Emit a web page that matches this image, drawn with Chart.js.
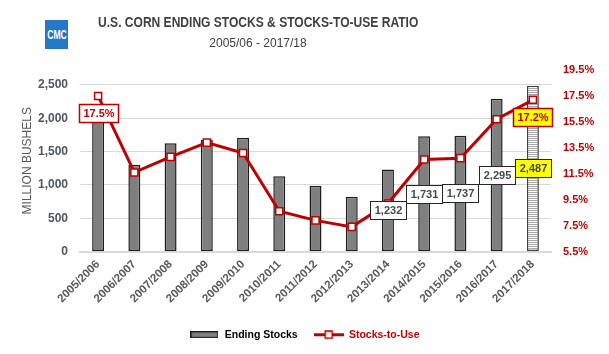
<!DOCTYPE html>
<html><head><meta charset="utf-8">
<script src="https://cdn.jsdelivr.net/npm/chart.js@4.4.0/dist/chart.umd.min.js"></script>
<style>
html,body{margin:0;padding:0;background:#fff;}
#wrap{position:relative;width:609px;height:354px;overflow:hidden;font-family:'Liberation Sans',Arial,sans-serif;}
#c{position:absolute;left:0;top:0;}
#logo{position:absolute;left:45px;top:20px;width:23px;height:29px;background:#2678c4;}
#logo span{position:absolute;left:50%;top:8px;color:#fff;font-weight:bold;font-size:12px;line-height:14px;white-space:nowrap;transform:translateX(-50%) scaleX(0.72);}
#title{position:absolute;left:0;width:516px;top:14px;text-align:center;font-weight:bold;font-size:14px;line-height:16px;color:#404040;white-space:nowrap;}
#title span{display:inline-block;transform:scaleX(0.86);}
#sub{position:absolute;left:0;width:516px;top:36px;text-align:center;font-size:12px;line-height:14px;color:#404040;white-space:nowrap;}
</style></head>
<body>
<div id="wrap">
  <canvas id="c" width="609" height="354" style="width:609px;height:354px"></canvas>
  <div id="logo"><span>CMC</span></div>
  <div id="title"><span>U.S. CORN ENDING STOCKS &amp; STOCKS-TO-USE RATIO</span></div>
  <div id="sub">2005/06 - 2017/18</div>
</div>
<script>
const CATEGORIES = ['2005/2006','2006/2007','2007/2008','2008/2009','2009/2010','2010/2011','2011/2012','2012/2013','2013/2014','2014/2015','2015/2016','2016/2017','2017/2018'];
const ENDING_STOCKS = [1967,1304,1624,1673,1708,1128,989,821,1232,1731,1737,2295,2487];
const STOCKS_TO_USE = [17.5,11.6,12.8,13.9,13.1,8.6,7.9,7.4,9.2,12.6,12.7,15.7,17.2];
const LEFT_TICKS = [0,500,1000,1500,2000,2500];
const RIGHT_TICKS = [5.5,7.5,9.5,11.5,13.5,15.5,17.5,19.5];
const LEFT_MAX = 2725;
const STOCK_LABEL_INDEX = [8,9,10,11,12];
const RATIO_LABEL_INDEX = [0,12];
const HIGHLIGHT_INDEX = 12;
const SERIES_NAMES = ['Ending Stocks','Stocks-to-Use'];

const FONT = "'Liberation Sans', Arial, sans-serif";
Chart.defaults.font.family = FONT;

function mkCanvas(w,h){const c=document.createElement('canvas');c.width=w;c.height=h;return c;}
// hatch pattern for the projected year
const pc = mkCanvas(2,2); const pctx = pc.getContext('2d');
pctx.fillStyle='#ffffff'; pctx.fillRect(0,0,2,2);
pctx.fillStyle='#a6a6a6'; pctx.fillRect(0,0,2,1);
const hatch = document.getElementById('c').getContext('2d').createPattern(pc,'repeat');

// legend icons
const barIcon = mkCanvas(28,7); {const g=barIcon.getContext('2d'); g.fillStyle='#7f7f7f'; g.fillRect(0,0,28,7); g.strokeStyle='#1a1a1a'; g.lineWidth=1.2; g.strokeRect(0.6,0.6,26.8,5.8);}
const lineIcon = mkCanvas(30,9); {const g=lineIcon.getContext('2d'); g.strokeStyle='#c00000'; g.lineWidth=3; g.beginPath(); g.moveTo(0,4.5); g.lineTo(30,4.5); g.stroke(); g.fillStyle='#fff'; g.fillRect(11.5,1,7,7); g.lineWidth=1.5; g.strokeRect(11.5,1,7,7);}

function drawBox(ctx,cx,cy,text,fill,stroke,sw,color){
  const w = Math.round(ctx.measureText(text).width + 8), h = 18;
  const x = Math.round(cx - w/2) + 0.5, y = Math.round(cy - h/2) + 0.5;
  ctx.fillStyle = fill; ctx.fillRect(x,y,w,h);
  ctx.lineWidth = sw; ctx.strokeStyle = stroke; ctx.strokeRect(x,y,w,h);
  ctx.fillStyle = color; ctx.fillText(text, x + w/2, y + h/2 + 0.5);
}

const labelPlugin = {
  id:'valueLabels',
  afterDatasetsDraw(chart){
    const ctx = chart.ctx;
    const barMeta = chart.getDatasetMeta(0), lineMeta = chart.getDatasetMeta(1);
    ctx.save();
    ctx.font = "bold 11px " + FONT;
    ctx.textAlign = 'center'; ctx.textBaseline = 'middle';
    STOCK_LABEL_INDEX.forEach(i => {
      const el = barMeta.data[i];
      drawBox(ctx, el.x, (el.y + el.base)/2, ENDING_STOCKS[i].toLocaleString('en-US'),
        i===HIGHLIGHT_INDEX ? '#ffff00' : '#ffffff', '#262626', 1, '#404958');
    });
    RATIO_LABEL_INDEX.forEach(i => {
      const el = lineMeta.data[i];
      drawBox(ctx, el.x, el.y + 17, STOCKS_TO_USE[i].toFixed(1) + '%',
        i===HIGHLIGHT_INDEX ? '#ffff00' : '#ffffff', '#c00000', 1.5, '#c00000');
    });
    ctx.restore();
  }
};

new Chart(document.getElementById('c'), {
  data:{
    labels: CATEGORIES,
    datasets:[
      {type:'bar', label:SERIES_NAMES[0], data:ENDING_STOCKS, yAxisID:'y', order:2,
       backgroundColor: ENDING_STOCKS.map((_,i)=> i===HIGHLIGHT_INDEX ? hatch : '#7f7f7f'),
       borderColor: ENDING_STOCKS.map((_,i)=> i===HIGHLIGHT_INDEX ? '#404040' : '#1f1f1f'),
       borderWidth:1.5, borderSkipped:false, barPercentage:0.33, categoryPercentage:1},
      {type:'line', label:SERIES_NAMES[1], data:STOCKS_TO_USE, yAxisID:'y1', order:1,
       borderColor:'#c00000', borderWidth:3, tension:0, fill:false,
       pointStyle:'rect', pointRadius:5, pointBackgroundColor:'#ffffff', pointBorderColor:'#c00000', pointBorderWidth:1.5}
    ]
  },
  options:{
    responsive:false, animation:false, events:[],
    layout:{padding:{top:70,left:0,right:0,bottom:4}},
    plugins:{
      tooltip:{enabled:false},
      title:{display:false},
      legend:{position:'bottom',
        labels:{usePointStyle:true, pointStyleWidth:30, padding:16,
          font:{size:10.5, weight:'bold'},
          generateLabels(){
            return [
              {text:SERIES_NAMES[0], pointStyle:barIcon, fontColor:'#000000', fillStyle:'#7f7f7f', strokeStyle:'#000', lineWidth:0, hidden:false, datasetIndex:0},
              {text:SERIES_NAMES[1], pointStyle:lineIcon, fontColor:'#c00000', fillStyle:'#fff', strokeStyle:'#c00000', lineWidth:0, hidden:false, datasetIndex:1}
            ];
          }}}
    },
    scales:{
      x:{type:'category', offset:true,
         grid:{display:false, drawTicks:false},
         border:{display:true, color:'#d9d9d9', width:2},
         ticks:{color:'#595959', font:{size:11.5, weight:'bold'}, maxRotation:45, minRotation:45, padding:6, autoSkip:false},
         afterFit(s){ s.height = 62; }},
      y:{position:'left', min:0, max:LEFT_MAX,
         afterBuildTicks(s){ s.ticks = LEFT_TICKS.map(v=>({value:v})); },
         ticks:{callback:v=>v.toLocaleString('en-US'), color:'#505560', font:{size:12, weight:'bold'}, padding:12},
         grid:{color:'#d9d9d9', lineWidth:1, drawTicks:false},
         border:{display:false},
         title:{display:true, text:'MILLION BUSHELS', color:'#595959', font:{size:12}, padding:{top:20,bottom:0}},
         afterFit(s){ s.width = 80; }},
      y1:{position:'right', min:RIGHT_TICKS[0], max:RIGHT_TICKS[RIGHT_TICKS.length-1],
         afterBuildTicks(s){ s.ticks = RIGHT_TICKS.map(v=>({value:v})); },
         ticks:{callback:v=>v.toFixed(1)+'%', color:'#c00000', font:{size:11, weight:'bold'}, padding:12},
         grid:{display:false, drawTicks:false},
         border:{display:false},
         afterFit(s){ s.width = 58; }}
    }
  },
  plugins:[labelPlugin]
});
</script>
</body></html>
